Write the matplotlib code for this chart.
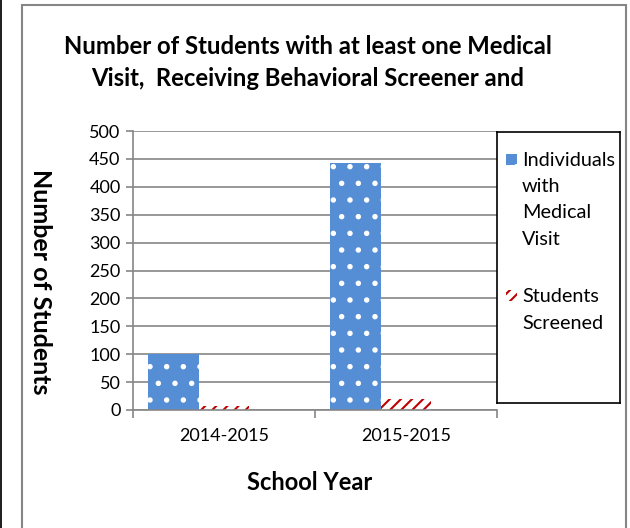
import numpy as np
import matplotlib.pyplot as plt
from matplotlib.patches import Rectangle

plt.rcParams['font.family'] = ['Lato', 'DejaVu Sans']
plt.rcParams['hatch.linewidth'] = 1.5

# data
years = ['2014-2015', '2015-2015']
medical_visit = [100, 443]
screened = [7, 20]
yticks = list(range(0, 501, 50))

BLUE = '#558ED5'
RED = '#C00000'
GRID = '#868686'

fig = plt.figure(figsize=(6.3, 5.28), dpi=100)
W, H = 630, 528

def fbox(x0, y0, x1, y1):
    # pixel box (top-left origin) -> figure fraction [l, b, w, h]
    return [x0 / W, 1 - y1 / H, (x1 - x0) / W, (y1 - y0) / H]

# chart frame
fig.patches.append(Rectangle((22 / W, -0.05), (626 - 22) / W, 1.05 - 5 / H,
                             transform=fig.transFigure, fill=False,
                             edgecolor=GRID, lw=1.5))
fig.patches.append(Rectangle((0, 0), 1.5 / W, 1, transform=fig.transFigure,
                             color='#222222', lw=0))

ax = fig.add_axes(fbox(133, 131, 497, 410))
x = np.arange(len(years))
bw = 0.28
ax.bar(x - bw, medical_visit, bw, color=BLUE, edgecolor='white', hatch='.',
       linewidth=0, label='Individuals with Medical Visit')
ax.bar(x, screened, bw, color='white', edgecolor=RED, hatch='///',
       linewidth=0, label='Students Screened')

ax.set_xlim(-0.5, 1.5)
ax.set_ylim(0, 500)
ax.set_yticks(yticks)
ax.set_xticks(x)
ax.set_xticklabels(years, fontsize=13)
ax.set_xticks([-0.5, 0.5, 1.5], minor=True)
ax.tick_params(axis='x', which='major', length=0, pad=13)
ax.tick_params(axis='x', which='minor', length=6, color=GRID, width=1.2)
ax.tick_params(axis='y', length=5, color=GRID, width=1.2, labelsize=13, pad=4)
ax.grid(axis='y', color=GRID, lw=1.2)
ax.set_axisbelow(True)
for s in ['top', 'right']:
    ax.spines[s].set_visible(False)
for s in ['left', 'bottom']:
    ax.spines[s].set_color(GRID)
    ax.spines[s].set_linewidth(1.2)

# titles
fig.text(308 / W, 1 - 47 / H, 'Number of Students with at least one Medical',
         ha='center', va='center', fontsize=17.2, fontweight='bold')
fig.text(308 / W, 1 - 78 / H, 'Visit,  Receiving Behavioral Screener and',
         ha='center', va='center', fontsize=17.2, fontweight='bold')
fig.text(40 / W, 1 - 282 / H, 'Number of Students', rotation=270,
         ha='center', va='center', fontsize=18, fontweight='bold')
fig.text(310 / W, 1 - 483 / H, 'School Year', ha='center', va='center',
         fontsize=17, fontweight='bold')

# legend box
lax = fig.add_axes(fbox(497, 132, 620, 403))
lax.set_xlim(0, 123)
lax.set_ylim(271, 0)
lax.set_xticks([])
lax.set_yticks([])
for s in lax.spines.values():
    s.set_color('black')
    s.set_linewidth(1.2)
lax.add_patch(Rectangle((9, 22), 11, 11, facecolor=BLUE, edgecolor='white',
                        hatch='.', lw=0))
lax.add_patch(Rectangle((9, 158), 11, 11, facecolor='white', edgecolor=RED,
                        hatch='///', lw=0))
for i, t in enumerate(['Individuals', 'with', 'Medical', 'Visit']):
    lax.text(25, 28 + i * 26.5, t, fontsize=14.3, ha='left', va='center')
for i, t in enumerate(['Students', 'Screened']):
    lax.text(25, 165 + i * 26.5, t, fontsize=14.3, ha='left', va='center')

fig.savefig('out.png', dpi=100)
